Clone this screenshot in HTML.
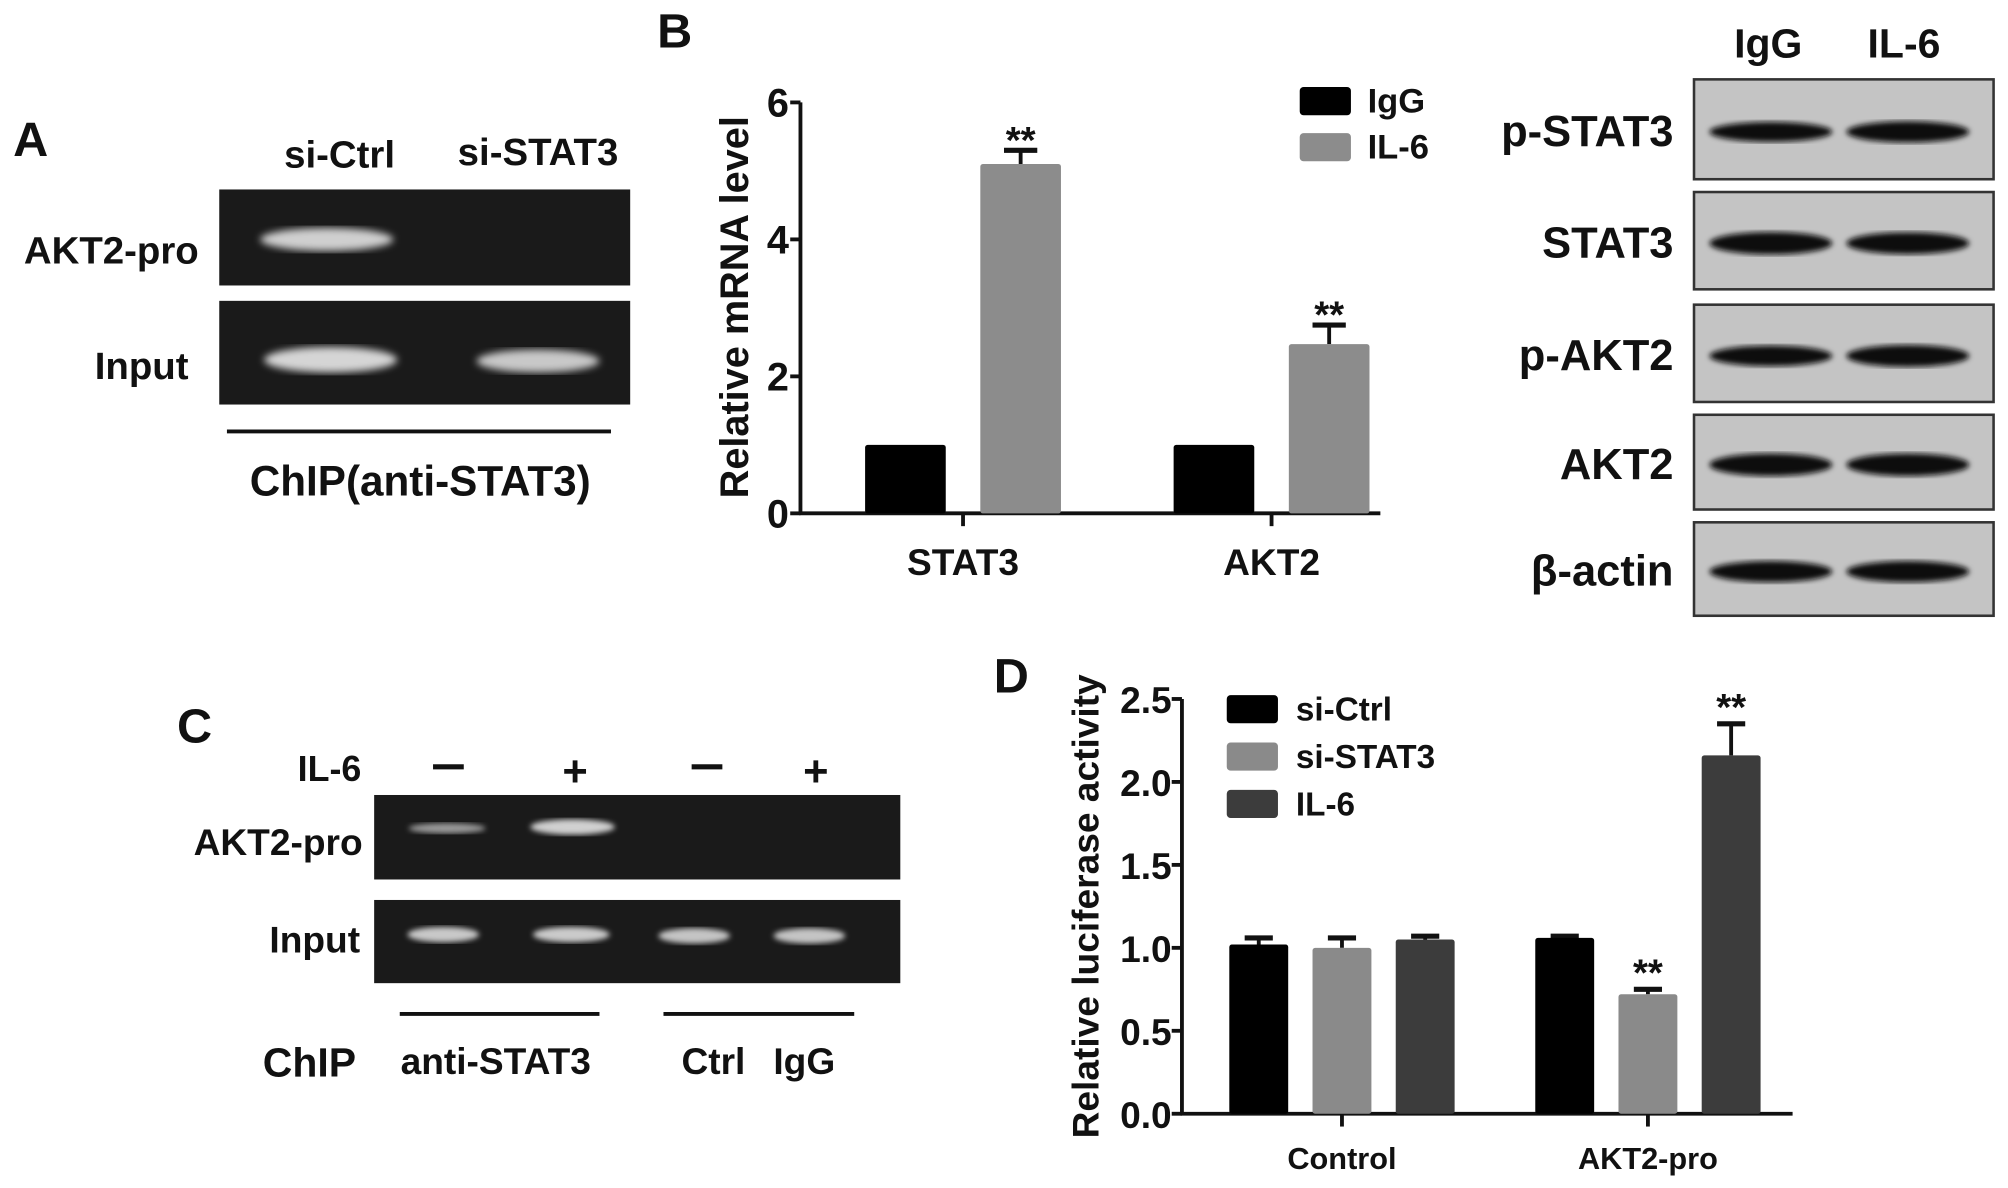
<!DOCTYPE html>
<html><head><meta charset="utf-8">
<style>
html,body{margin:0;padding:0;background:#fff;}
svg{display:block;}
text{font-family:"Liberation Sans",sans-serif;font-weight:bold;fill:#111;}
.n{font-family:"Liberation Sans Narrow","Liberation Sans",sans-serif;}
</style></head>
<body>
<svg id="fig" width="2008" height="1188" viewBox="0 0 1568 928" xmlns="http://www.w3.org/2000/svg">
<defs>
<filter id="blur2"><feGaussianBlur stdDeviation="3"/></filter>
<filter id="blur1"><feGaussianBlur stdDeviation="2"/></filter>
</defs>

<!-- Panel A -->
<g>
<text x="10" y="122" font-size="38">A</text>
<text class="n" x="265" y="131" font-size="30" text-anchor="middle">si-Ctrl</text>
<text class="n" x="420" y="129" font-size="30" text-anchor="middle">si-STAT3</text>
<rect x="171" y="148" width="321" height="75" fill="#1a1a1a"/>
<ellipse cx="255" cy="187" rx="52" ry="9" fill="#cfcfcf" filter="url(#blur2)"/>
<rect x="171" y="235" width="321" height="81" fill="#1a1a1a"/>
<ellipse cx="258" cy="281" rx="52" ry="10" fill="#d5d5d5" filter="url(#blur2)"/>
<ellipse cx="420" cy="282" rx="48" ry="9" fill="#c8c8c8" filter="url(#blur2)"/>
<text class="n" x="155" y="206" font-size="30" text-anchor="end">AKT2-pro</text>
<text class="n" x="147" y="296" font-size="30" text-anchor="end">Input</text>
<line x1="177" y1="337" x2="477" y2="337" stroke="#111" stroke-width="3"/>
<text class="n" x="328" y="387" font-size="33" text-anchor="middle">ChIP(anti-STAT3)</text>
</g>

<!-- Panel B chart -->
<g id="chartB">
<text x="513" y="37" font-size="38">B</text>
</g>

<!-- Western blot -->
<g id="wb">
<text x="1381" y="45" font-size="32" text-anchor="middle">IgG</text>
<text x="1487" y="45" font-size="32" text-anchor="middle">IL-6</text>
</g>

<!-- Panel C -->
<g>
<text x="138" y="580" font-size="38">C</text>
<text class="n" x="282" y="610" font-size="28" text-anchor="end">IL-6</text>
<rect x="338" y="597" width="24" height="4" fill="#111"/>
<text x="449" y="614" font-size="34" text-anchor="middle">+</text>
<rect x="540" y="597" width="24" height="4" fill="#111"/>
<text x="637" y="614" font-size="34" text-anchor="middle">+</text>
<rect x="292" y="621" width="411" height="66" fill="#1a1a1a"/>
<ellipse cx="349" cy="647" rx="30" ry="4" fill="#9a9a9a" filter="url(#blur1)"/>
<ellipse cx="447" cy="646" rx="33" ry="6" fill="#d0d0d0" filter="url(#blur1)"/>
<rect x="292" y="703" width="411" height="65" fill="#1a1a1a"/>
<ellipse cx="346" cy="730" rx="28" ry="6" fill="#c8c8c8" filter="url(#blur1)"/>
<ellipse cx="446" cy="730" rx="30" ry="6" fill="#cacaca" filter="url(#blur1)"/>
<ellipse cx="542" cy="731" rx="28" ry="6" fill="#c4c4c4" filter="url(#blur1)"/>
<ellipse cx="632" cy="731" rx="28" ry="6" fill="#c4c4c4" filter="url(#blur1)"/>
<text class="n" x="283" y="668" font-size="29" text-anchor="end">AKT2-pro</text>
<text class="n" x="281" y="744" font-size="29" text-anchor="end">Input</text>
<line x1="312" y1="792" x2="468" y2="792" stroke="#111" stroke-width="3"/>
<line x1="518" y1="792" x2="667" y2="792" stroke="#111" stroke-width="3"/>
<text class="n" x="205" y="841" font-size="32">ChIP</text>
<text class="n" x="387" y="839" font-size="29" text-anchor="middle">anti-STAT3</text>
<text class="n" x="557" y="839" font-size="29" text-anchor="middle">Ctrl</text>
<text class="n" x="628" y="839" font-size="29" text-anchor="middle">IgG</text>
</g>

<!-- Panel D chart -->
<g id="chartD">
<text x="776" y="541" font-size="38">D</text>
</g>
</svg>

<script>
// ---------- Panel B data ----------
const bCategories = ["STAT3", "AKT2"];
const bSeriesNames = ["IgG", "IL-6"];
const bIgG = [1.0, 1.0];
const bIL6 = [5.1, 2.47];
const bIgGErr = [0, 0];
const bIL6Err = [0.2, 0.28];
const bTicks = [0, 2, 4, 6];
const bSigIL6 = ["**", "**"];

// ---------- Panel D data ----------
const dCategories = ["Control", "AKT2-pro"];
const dSeriesNames = ["si-Ctrl", "si-STAT3", "IL-6"];
const dSiCtrl = [1.02, 1.06];
const dSiSTAT3 = [1.0, 0.72];
const dIL6 = [1.05, 2.16];
const dSiCtrlErr = [0.04, 0.01];
const dSiSTAT3Err = [0.06, 0.03];
const dIL6Err = [0.02, 0.19];
const dTicks = [0.0, 0.5, 1.0, 1.5, 2.0, 2.5];
const dSigSiSTAT3 = ["", "**"];
const dSigIL6 = ["", "**"];

// ---------- Western blot data ----------
const wbRows = ["p-STAT3", "STAT3", "p-AKT2", "AKT2", "β-actin"];
const wbIntensityIgG = [0.75, 0.95, 0.8, 0.95, 0.85];
const wbIntensityIL6 = [0.85, 0.9, 0.9, 0.95, 0.85];

const NS = "http://www.w3.org/2000/svg";
function mk(parent, tag, attrs, txt) {
  const e = document.createElementNS(NS, tag);
  for (const k in attrs) e.setAttribute(k, attrs[k]);
  if (txt !== undefined) e.textContent = txt;
  parent.appendChild(e);
  return e;
}

// ===== Panel B =====
(function () {
  const g = document.getElementById("chartB");
  const x0 = 625, y0 = 401, yTop = 80, vmax = 6;
  const yS = v => y0 - (v / vmax) * (y0 - yTop);
  const catX = [752, 993];
  const barW = 63, gap = 27;
  let e;
  e = mk(g, "line", {x1: x0, y1: yTop, x2: x0, y2: y0 + 1, stroke: "#111", "stroke-width": 3});
  
  
  e = mk(g, "line", {x1: x0 - 1, y1: y0, x2: 1078, y2: y0, stroke: "#111", "stroke-width": 3});
  
  
  bTicks.forEach(t => {
    const y = yS(t);
    e = mk(g, "line", {x1: x0 - 8, y1: y, x2: x0, y2: y, stroke: "#111", "stroke-width": 3});
    
    
    e = mk(g, "text", {x: x0 - 9, y: y + 11, "font-size": 31, "text-anchor": "end", class: "n"}, String(t));
    
    
  });
  e = mk(g, "text", {x: 0, y: 0, "font-size": 31, "text-anchor": "middle", transform: "translate(584,240) rotate(-90)"}, "Relative mRNA level");
  
  
  bCategories.forEach((c, i) => {
    const cx = catX[i];
    e = mk(g, "line", {x1: cx, y1: y0, x2: cx, y2: y0 + 10, stroke: "#111", "stroke-width": 3});
    
    
    e = mk(g, "text", {x: cx, y: y0 + 48, "font-size": 29, "text-anchor": "middle"}, c);
    
    
    const series = [[bIgG, bIgGErr, "#000"], [bIL6, bIL6Err, "#8c8c8c"]];
    series.forEach((s, j) => {
      const v = s[0][i], er = s[1][i];
      const bx = cx - barW - gap / 2 + j * (barW + gap);
      const cxb = bx + barW / 2;
      if (er > 0) {
        e = mk(g, "line", {x1: cxb, y1: yS(v), x2: cxb, y2: yS(v + er), stroke: "#111", "stroke-width": 3});
        
        
        e = mk(g, "line", {x1: cxb - 13, y1: yS(v + er), x2: cxb + 13, y2: yS(v + er), stroke: "#111", "stroke-width": 4});
        
        
      }
      e = mk(g, "rect", {x: bx, y: yS(v), width: barW, height: y0 - yS(v), fill: s[2], rx: 2});
      
      
      if (j === 1 && bSigIL6[i]) {
        e = mk(g, "text", {x: cxb, y: yS(v + er) + 2, "font-size": 30, "text-anchor": "middle", "font-weight": "normal"}, bSigIL6[i]);
        
        
      }
    });
  });
  const legC = ["#000", "#8c8c8c"];
  bSeriesNames.forEach((n, j) => {
    const y = 68 + j * 36;
    e = mk(g, "rect", {x: 1015, y: y, width: 40, height: 22, fill: legC[j], rx: 3});
    
    
    e = mk(g, "text", {x: 1068, y: y + 20, "font-size": 27, class: "n"}, n);
    
    
  });
})();

// ===== Western blot =====
(function () {
  const g = document.getElementById("wb");
  const boxes = [[62, 140], [150, 226], [238, 314], [324, 398], [408, 481]];
  let e;
  wbRows.forEach((r, i) => {
    const [t, b] = boxes[i];
    e = mk(g, "rect", {x: 1323, y: t, width: 234, height: b - t, fill: "#c4c4c4", stroke: "#333", "stroke-width": 2});
    
    
    const cy = (t + b) / 2 + 2;
    const ints = [wbIntensityIgG[i], wbIntensityIL6[i]];
    [1383, 1490].forEach((cx, k) => {
      const th = 8 + ints[k] * 10;
      e = mk(g, "ellipse", {cx: cx, cy: cy, rx: 48, ry: th / 2, fill: "#0a0a0a", filter: "url(#blur1)"});
      
      
    });
    e = mk(g, "text", {x: 1307, y: (t + b) / 2 + 13, "font-size": 34, "text-anchor": "end"}, r);
    
    
  });
})();

// ===== Panel D =====
(function () {
  const g = document.getElementById("chartD");
  const x0 = 923, y0 = 870, yTop = 546, vmax = 2.5;
  const yS = v => y0 - (v / vmax) * (y0 - yTop);
  const catX = [1048, 1287];
  const barW = 46, step = 65;
  let e;
  e = mk(g, "line", {x1: x0, y1: yTop, x2: x0, y2: y0 + 1, stroke: "#111", "stroke-width": 3});
  
  
  e = mk(g, "line", {x1: x0 - 1, y1: y0, x2: 1400, y2: y0, stroke: "#111", "stroke-width": 3});
  
  
  dTicks.forEach(t => {
    const y = yS(t);
    e = mk(g, "line", {x1: x0 - 8, y1: y, x2: x0, y2: y, stroke: "#111", "stroke-width": 3});
    
    
    e = mk(g, "text", {x: x0 - 8, y: y + 11, "font-size": 29, "text-anchor": "end", class: "n"}, t.toFixed(1));
    
    
  });
  e = mk(g, "text", {x: 0, y: 0, "font-size": 29, "text-anchor": "middle", transform: "translate(858,708) rotate(-90)"}, "Relative luciferase activity");
  
  
  const cols = ["#000", "#8a8a8a", "#3c3c3c"];
  const vals = [dSiCtrl, dSiSTAT3, dIL6];
  const errs = [dSiCtrlErr, dSiSTAT3Err, dIL6Err];
  const sigs = [["", ""], dSigSiSTAT3, dSigIL6];
  dCategories.forEach((c, i) => {
    const cx = catX[i];
    e = mk(g, "line", {x1: cx, y1: y0, x2: cx, y2: y0 + 10, stroke: "#111", "stroke-width": 3});
    
    
    e = mk(g, "text", {x: cx, y: y0 + 43, "font-size": 24, "text-anchor": "middle", class: "n"}, c);
    
    
    for (let j = 0; j < 3; j++) {
      const v = vals[j][i], er = errs[j][i];
      const cxb = cx + (j - 1) * step;
      const bx = cxb - barW / 2;
      e = mk(g, "line", {x1: cxb, y1: yS(v), x2: cxb, y2: yS(v + er), stroke: "#111", "stroke-width": 3});
      
      
      e = mk(g, "line", {x1: cxb - 11, y1: yS(v + er), x2: cxb + 11, y2: yS(v + er), stroke: "#111", "stroke-width": 4});
      
      
      e = mk(g, "rect", {x: bx, y: yS(v), width: barW, height: y0 - yS(v), fill: cols[j], rx: 2});
      
      
      if (sigs[j][i]) {
        e = mk(g, "text", {x: cxb, y: yS(v + er) - 3, "font-size": 30, "text-anchor": "middle", "font-weight": "normal"}, sigs[j][i]);
        
        
      }
    }
  });
  dSeriesNames.forEach((n, j) => {
    const y = 543 + j * 37;
    e = mk(g, "rect", {x: 958, y: y, width: 40, height: 22, fill: cols[j], rx: 3});
    
    
    e = mk(g, "text", {x: 1012, y: y + 20, "font-size": 26, class: "n"}, n);
    
    
  });
})();
</script>
</body></html>
